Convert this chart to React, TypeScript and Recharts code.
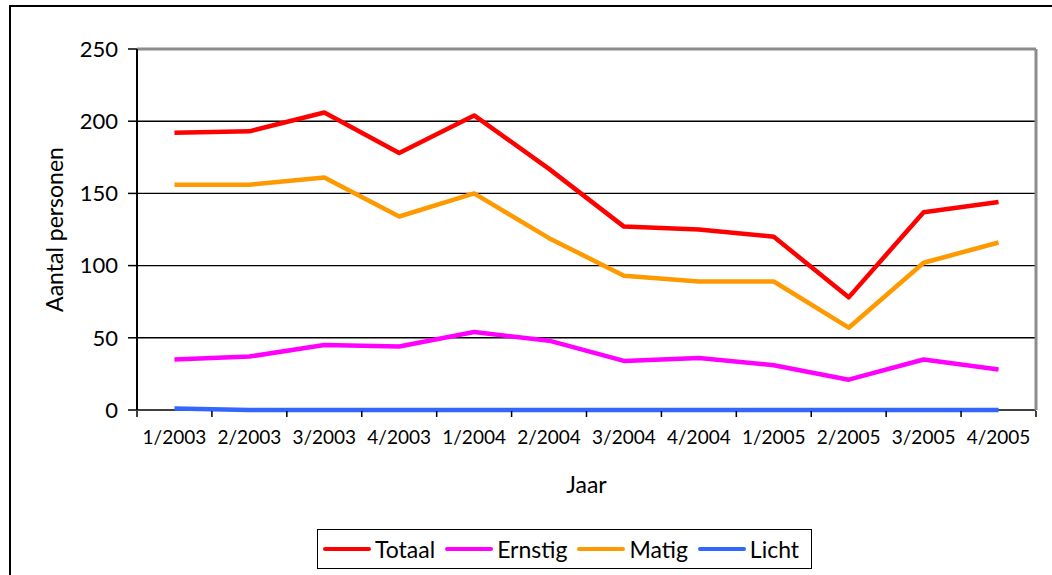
import React from 'react';
import { LineChart, Line, XAxis, YAxis, CartesianGrid, ReferenceLine } from 'recharts';

const categories = ['1/2003', '2/2003', '3/2003', '4/2003', '1/2004', '2/2004', '3/2004', '4/2004', '1/2005', '2/2005', '3/2005', '4/2005'];
const totaal = [192, 193, 206, 178, 204, 167, 127, 125, 120, 78, 137, 144];
const ernstig = [35, 37, 45, 44, 54, 48, 34, 36, 31, 21, 35, 28];
const matig = [156, 156, 161, 134, 150, 119, 93, 89, 89, 57, 102, 116];
const licht = [1, 0, 0, 0, 0, 0, 0, 0, 0, 0, 0, 0];
const yTicks = [0, 50, 100, 150, 200, 250];
const yMax = 250;

const series = [
  { key: 'Totaal', values: totaal, color: '#FF0000' },
  { key: 'Ernstig', values: ernstig, color: '#FF00FF' },
  { key: 'Matig', values: matig, color: '#FF9900' },
  { key: 'Licht', values: licht, color: '#3366FF' },
];

const data = categories.map((c, i) => {
  const row: any = { label: c, x: i + 0.5 };
  series.forEach((s) => { row[s.key] = s.values[i]; });
  return row;
});

const boundaryTicks = categories.map((_, i) => i).concat([categories.length]);
const FONT = 'Lato, "Open Sans", sans-serif';

export default function App() {
  return (
    <div style={{ position: 'absolute', left: 0, top: 0, width: 1052, height: 575, overflow: 'hidden', background: '#fff', fontFamily: FONT }}>
      <div style={{ position: 'absolute', left: 9, top: 5, width: 1100, height: 700, borderTop: '2px solid #000', borderLeft: '2px solid #000' }} />
      <LineChart
        width={1052}
        height={575}
        data={data}
        margin={{ top: 49, right: 16, left: 0, bottom: 135 }}
        style={{ position: 'absolute', left: 0, top: 0 }}
      >
        <CartesianGrid vertical={false} stroke="#000" strokeWidth={1.4} xAxisId="num" yAxisId="left" />
        <XAxis
          xAxisId="num"
          type="number"
          dataKey="x"
          domain={[0, categories.length]}
          ticks={boundaryTicks}
          interval={0}
          tickFormatter={() => ' '}
          tickSize={6}
          height={29}
          axisLine={false}
          tickLine={{ stroke: '#000', strokeWidth: 1.5 }}
          tick={{ fontSize: 1 }}
        />
        <XAxis
          xAxisId="lab"
          type="category"
          scale="band"
          dataKey="label"
          height={1}
          axisLine={false}
          tickLine={false}
          tickSize={0}
          tickMargin={21}
          interval={0}
          tick={{ fill: '#000', fontSize: 19, fontFamily: FONT }}
          label={(props: any) => {
            const vb = props.viewBox || {};
            return (
              <text x={vb.x + vb.width / 2} y={493} textAnchor="middle" fill="#000" fontSize={23} fontFamily={FONT}>Jaar</text>
            );
          }}
        />
        <YAxis
          yAxisId="left"
          domain={[0, yMax]}
          ticks={yTicks}
          width={137}
          tickSize={9}
          tickMargin={10}
          axisLine={{ stroke: '#000', strokeWidth: 2 }}
          tickLine={{ stroke: '#000', strokeWidth: 1.5 }}
          tick={{ fill: '#000', fontSize: 22, fontFamily: FONT }}
          label={(props: any) => {
            const vb = props.viewBox || {};
            const cy = vb.y + vb.height / 2;
            return (
              <text x={54} y={cy} transform={`rotate(-90, 54, ${cy})`} textAnchor="middle" dominantBaseline="central" fill="#000" fontSize={23} fontFamily={FONT}>Aantal personen</text>
            );
          }}
        />
        <ReferenceLine xAxisId="num" yAxisId="left" y={yMax} stroke="#8c8c8c" strokeWidth={3} ifOverflow="visible" />
        <ReferenceLine xAxisId="num" yAxisId="left" x={categories.length} stroke="#8c8c8c" strokeWidth={3} ifOverflow="visible" />
        {series.map((s) => (
          <Line
            key={s.key}
            xAxisId="num"
            yAxisId="left"
            type="linear"
            dataKey={s.key}
            stroke={s.color}
            strokeWidth={4.5}
            dot={false}
            activeDot={false}
            isAnimationActive={false}
            strokeLinejoin="round"
          />
        ))}
      </LineChart>
      <div style={{ position: 'absolute', left: 317, top: 529, width: 495, height: 40, boxSizing: 'border-box', border: '1px solid #000', display: 'flex', alignItems: 'center', paddingLeft: 5, gap: 10, fontSize: 23, color: '#000' }}>
        {series.map((s) => (
          <div key={s.key} style={{ display: 'flex', alignItems: 'center' }}>
            <span style={{ display: 'inline-block', width: 48, height: 4, background: s.color, borderRadius: 2, marginRight: 4 }} />
            <span>{s.key}</span>
          </div>
        ))}
      </div>
    </div>
  );
}
